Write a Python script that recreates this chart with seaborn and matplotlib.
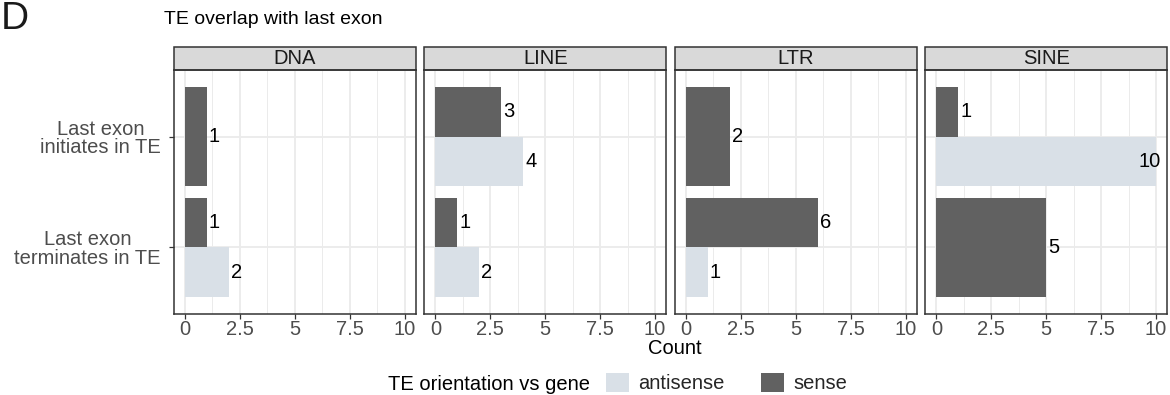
import numpy as np
import pandas as pd
import matplotlib
matplotlib.use("Agg")
import matplotlib.pyplot as plt
from matplotlib.patches import Patch, Rectangle
import seaborn as sns

# ---- data ----
te_classes = ["DNA", "LINE", "LTR", "SINE"]
categories = ["Last exon\ninitiates in TE", "Last exon\nterminates in TE"]
orientations = ["antisense", "sense"]
# (te_class, category index, orientation, count)
row_te = ["DNA", "DNA", "DNA",
          "LINE", "LINE", "LINE", "LINE",
          "LTR", "LTR", "LTR",
          "SINE", "SINE", "SINE"]
row_cat = [0, 1, 1,
           0, 0, 1, 1,
           0, 1, 1,
           0, 0, 1]
row_orient = ["sense", "sense", "antisense",
              "sense", "antisense", "sense", "antisense",
              "sense", "sense", "antisense",
              "sense", "antisense", "sense"]
row_count = [1, 1, 2,
             3, 4, 1, 2,
             2, 6, 1,
             1, 10, 5]
x_ticks = [0, 2.5, 5, 7.5, 10]
x_tick_labels = ["0", "2.5", "5", "7.5", "10"]

df = pd.DataFrame({
    "te": row_te,
    "cat": [categories[i] for i in row_cat],
    "orient": row_orient,
    "count": row_count,
})

palette = {"antisense": "#D9E0E7", "sense": "#616161"}

sns.set_theme(style="white")
plt.rcParams["font.family"] = ["Liberation Sans", "DejaVu Sans"]

W, H = 1170, 395
fig = plt.figure(figsize=(W / 100, H / 100), dpi=100)
axes = fig.subplots(1, 4, sharey=True)
fig.subplots_adjust(left=174 / W, right=1167 / W, top=1 - 70 / H, bottom=1 - 314 / H,
                    wspace=0.037)

fs = 14.5
for ax, te in zip(axes, te_classes):
    sub = df[df["te"] == te]
    sns.barplot(data=sub, y="cat", x="count", hue="orient", order=categories,
                hue_order=["sense", "antisense"], palette=palette, width=0.9,
                saturation=1, legend=False, ax=ax, orient="h", errorbar=None,
                linewidth=0)
    # ggplot-like dodge: single bar in a group takes full width
    n_per_cat = sub.groupby("cat")["orient"].nunique()
    for p in ax.patches:
        if not isinstance(p, Rectangle) or p.get_width() == 0:
            continue
        c = p.get_y() + p.get_height() / 2
        ci = int(round(c))
        if n_per_cat.get(categories[ci], 0) == 1:
            p.set_y(ci - 0.45)
            p.set_height(0.9)
    for p in ax.patches:
        v = p.get_width()
        if v == 0 or np.isnan(v):
            continue
        yc = p.get_y() + p.get_height() / 2
        if v >= 9.5:
            ax.annotate(f"{int(v)}", (v, yc), xytext=(5, 0), textcoords="offset pixels",
                        ha="right", va="center", fontsize=fs, color="black")
        else:
            ax.annotate(f"{int(v)}", (v, yc), xytext=(2, 0), textcoords="offset pixels",
                        ha="left", va="center", fontsize=fs, color="black")

    ax.set_xlim(-0.5, 10.5)
    ax.set_ylim(1.6, -0.6)
    ax.set_xticks(x_ticks)
    ax.set_xticklabels(x_tick_labels)
    ax.set_xticks([1.25, 3.75, 6.25, 8.75], minor=True)
    ax.set_axisbelow(True)
    ax.grid(which="major", axis="both", color="#EBEBEB", lw=1.3)
    ax.grid(which="minor", axis="x", color="#EBEBEB", lw=0.7)
    ax.set_xlabel("")
    ax.set_ylabel("")
    for s in ax.spines.values():
        s.set_color("#333333")
        s.set_linewidth(1.1)
        s.set_visible(True)
    ax.tick_params(axis="x", which="major", bottom=True, length=3.5, width=0.9,
                   color="#333333", labelsize=fs, labelcolor="#4D4D4D", pad=0.5)
    ax.tick_params(axis="x", which="minor", bottom=False)
    ax.tick_params(axis="y", left=True, length=3.5, width=0.9, color="#333333",
                   labelsize=fs, labelcolor="#4D4D4D", pad=6)
    # strip
    sh = 23 / 244
    ax.add_patch(Rectangle((0, 1), 1, sh, transform=ax.transAxes, clip_on=False,
                           facecolor="#D9D9D9", edgecolor="#333333", lw=1.1))
    ax.text(0.5, 1 + sh / 2, te, transform=ax.transAxes, ha="center", va="center",
            fontsize=fs, color="#1A1A1A")

for ax in axes[1:]:
    ax.tick_params(axis="y", left=False, labelleft=False)
for lab in axes[0].get_yticklabels():
    lab.set_ha("right")
    lab.set_multialignment("center")
    lab.set_linespacing(0.95)

fig.text(1 / W, 1 - 29 / H, "D", fontsize=28, ha="left", va="baseline", color="#1A1A1A")
fig.text(164 / W, 1 - 19 / H, "TE overlap with last exon", fontsize=14,
         ha="left", va="center", color="black")
fig.text(675 / W, 1 - 348 / H, "Count", fontsize=fs, ha="center", va="center",
         color="black")

fig.text(590 / W, 1 - 384 / H, "TE orientation vs gene", fontsize=fs, ha="right",
         va="center", color="black")
handles = [Patch(facecolor=palette[o], edgecolor="none") for o in orientations]
fig.legend(handles, orientations, loc="center left", bbox_to_anchor=(606 / W, 1 - 383 / H),
           ncol=2, frameon=False, fontsize=fs, handlelength=1.15, handleheight=1.1,
           handletextpad=0.45, columnspacing=1.8, borderaxespad=0, borderpad=0)

fig.savefig("out.png", dpi=100)
